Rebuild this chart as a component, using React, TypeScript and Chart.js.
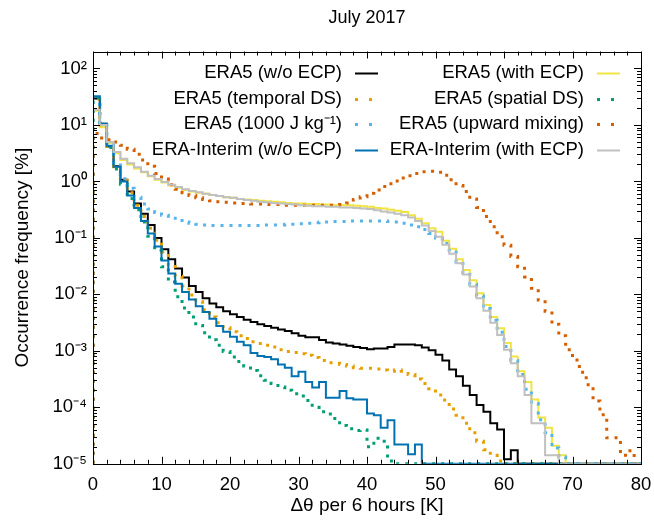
import React, { useEffect, useRef } from 'react';
import { Chart, registerables } from 'chart.js';

Chart.register(...registerables);

// ---------------- text ----------------
const TITLE = 'July 2017';
const X_TITLE = 'Δθ per 6 hours [K]';
const Y_TITLE = 'Occurrence frequency [%]';

// ---------------- axes ----------------
const X_MIN = 0;
const X_MAX = 80;
const X_MAJOR_TICKS = [0, 10, 20, 30, 40, 50, 60, 70, 80];
const X_MINOR_STEP = 2;
const Y_MIN = 1e-5;
const Y_MAX = 200;
const Y_TICK_EXPONENTS = [-5, -4, -3, -2, -1, 0, 1, 2];

// 1 K bins, first bin starts at 0 K
const BIN_START = 0;
const BIN_WIDTH = 1;

// ---------------- series (occurrence frequency in %, one value per 1 K bin; 0 = empty bin) ----------------
const ERA5_WO_ECP = [
  29.5, 10.5, 4.17, 1.86, 1.07, 0.661, 0.407, 0.269, 0.170, 0.100,
  0.0631, 0.0417, 0.0288, 0.0200, 0.0141, 0.0110, 8.51e-3, 6.92e-3, 5.89e-3, 5.01e-3,
  4.47e-3, 3.98e-3, 3.55e-3, 3.24e-3, 2.95e-3, 2.75e-3, 2.57e-3, 2.40e-3, 2.24e-3, 2.04e-3,
  1.86e-3, 1.74e-3, 1.74e-3, 1.55e-3, 1.41e-3, 1.35e-3, 1.29e-3, 1.23e-3, 1.17e-3, 1.12e-3,
  1.07e-3, 1.10e-3, 1.10e-3, 1.17e-3, 1.29e-3, 1.30e-3, 1.30e-3, 1.26e-3, 1.15e-3, 1.02e-3,
  8.51e-4, 6.76e-4, 4.68e-4, 3.55e-4, 2.40e-4, 1.66e-4, 1.10e-4, 8.32e-5, 5.25e-5, 4.07e-5,
  1.20e-5, 1.74e-5, 0, 0, 0, 0, 0, 0, 0, 0,
  0, 0, 0, 0, 0, 0, 0, 0, 0, 0,
];

const ERA5_WITH_ECP = [
  17.8, 9.12, 4.79, 3.16, 2.40, 2.00, 1.70, 1.45, 1.23, 1.07,
  0.955, 0.851, 0.776, 0.708, 0.661, 0.631, 0.603, 0.575, 0.550, 0.525,
  0.513, 0.490, 0.479, 0.468, 0.457, 0.447, 0.437, 0.427, 0.417, 0.407,
  0.407, 0.398, 0.398, 0.389, 0.389, 0.380, 0.380, 0.380, 0.372, 0.363,
  0.355, 0.339, 0.331, 0.316, 0.302, 0.288, 0.251, 0.219, 0.182, 0.148,
  0.129, 0.0891, 0.0646, 0.0417, 0.0269, 0.0178, 0.0105, 6.46e-3, 3.98e-3, 2.51e-3,
  1.38e-3, 7.94e-4, 4.37e-4, 2.82e-4, 1.38e-4, 6.61e-5, 4.37e-5, 2.09e-5, 1.41e-5, 0,
  0, 0, 0, 0, 0, 0, 0, 0, 0, 0,
];

const ERA5_TEMPORAL_DS = [
  28.2, 10.0, 4.17, 1.82, 1.05, 0.631, 0.380, 0.240, 0.148, 0.0912,
  0.0562, 0.0331, 0.0209, 0.0141, 9.77e-3, 7.41e-3, 5.37e-3, 3.98e-3, 3.16e-3, 2.57e-3,
  2.19e-3, 1.86e-3, 1.66e-3, 1.45e-3, 1.35e-3, 1.26e-3, 1.17e-3, 1.05e-3, 9.77e-4, 9.33e-4,
  8.91e-4, 8.32e-4, 7.59e-4, 6.76e-4, 6.17e-4, 6.03e-4, 5.75e-4, 5.37e-4, 5.01e-4, 4.90e-4,
  4.90e-4, 4.79e-4, 4.57e-4, 4.37e-4, 4.57e-4, 4.37e-4, 3.80e-4, 3.16e-4, 2.63e-4, 2.14e-4,
  1.66e-4, 1.35e-4, 9.33e-5, 7.24e-5, 5.25e-5, 3.55e-5, 2.51e-5, 1.78e-5, 1.41e-5, 1.12e-5,
  0, 0, 0, 0, 0, 0, 0, 0, 0, 0,
  0, 0, 0, 0, 0, 0, 0, 0, 0, 0,
];

const ERA5_SPATIAL_DS = [
  30.2, 10.0, 3.98, 1.66, 0.891, 0.501, 0.316, 0.191, 0.107, 0.0603,
  0.0309, 0.0166, 9.12e-3, 5.75e-3, 3.98e-3, 2.82e-3, 2.09e-3, 1.58e-3, 1.26e-3, 9.77e-4,
  7.76e-4, 6.46e-4, 5.37e-4, 4.47e-4, 3.63e-4, 3.02e-4, 2.63e-4, 2.29e-4, 2.00e-4, 1.74e-4,
  1.58e-4, 1.32e-4, 1.00e-4, 8.32e-5, 7.59e-5, 6.31e-5, 4.79e-5, 4.17e-5, 3.89e-5, 3.98e-5,
  2.00e-5, 2.82e-5, 2.51e-5, 1.12e-5, 0, 0, 0, 0, 0, 0,
  0, 0, 0, 0, 0, 0, 0, 0, 0, 0,
  0, 0, 0, 0, 0, 0, 0, 0, 0, 0,
  0, 0, 0, 0, 0, 0, 0, 0, 0, 0,
];

const ERA5_1000J = [
  25.1, 10.0, 4.47, 2.14, 1.12, 0.759, 0.525, 0.398, 0.324, 0.282,
  0.251, 0.224, 0.204, 0.191, 0.182, 0.174, 0.170, 0.166, 0.166, 0.166,
  0.166, 0.166, 0.166, 0.166, 0.166, 0.170, 0.170, 0.170, 0.174, 0.174,
  0.178, 0.182, 0.186, 0.191, 0.191, 0.195, 0.195, 0.200, 0.200, 0.200,
  0.200, 0.200, 0.200, 0.195, 0.191, 0.182, 0.170, 0.158, 0.141, 0.120,
  0.100, 0.0794, 0.0562, 0.0380, 0.0240, 0.0151, 9.33e-3, 5.62e-3, 3.47e-3, 2.14e-3,
  1.20e-3, 6.76e-4, 3.80e-4, 2.09e-4, 1.17e-4, 6.03e-5, 3.55e-5, 1.91e-5, 1.32e-5, 0,
  0, 0, 0, 0, 0, 0, 0, 0, 0, 0,
];

const ERA5_UPWARD_MIXING = [
  7.08, 5.89, 5.50, 5.01, 4.37, 3.72, 3.02, 2.40, 1.86, 1.38,
  1.10, 0.871, 0.724, 0.631, 0.562, 0.513, 0.479, 0.457, 0.437, 0.427,
  0.417, 0.407, 0.407, 0.398, 0.398, 0.389, 0.389, 0.389, 0.380, 0.380,
  0.380, 0.380, 0.380, 0.380, 0.380, 0.380, 0.389, 0.417, 0.479, 0.537,
  0.617, 0.708, 0.813, 0.912, 1.02, 1.15, 1.26, 1.38, 1.48, 1.51,
  1.45, 1.29, 1.07, 0.851, 0.661, 0.490, 0.347, 0.240, 0.158, 0.105,
  0.0741, 0.0468, 0.0309, 0.0204, 0.0129, 7.94e-3, 5.01e-3, 2.95e-3, 1.86e-3, 1.05e-3,
  6.92e-4, 4.17e-4, 2.51e-4, 1.29e-4, 7.41e-5, 2.88e-5, 2.88e-5, 1.41e-5, 1.70e-5, 0,
];

const ERAI_WO_ECP = [
  32.4, 10.5, 4.27, 1.82, 1.00, 0.562, 0.339, 0.200, 0.120, 0.0708,
  0.0398, 0.0234, 0.0155, 0.0110, 8.13e-3, 6.17e-3, 4.90e-3, 3.72e-3, 2.75e-3, 2.19e-3,
  1.78e-3, 1.45e-3, 1.26e-3, 9.12e-4, 8.13e-4, 7.76e-4, 7.08e-4, 5.75e-4, 5.01e-4, 3.55e-4,
  4.27e-4, 2.82e-4, 2.24e-4, 2.82e-4, 1.48e-4, 1.48e-4, 1.95e-4, 1.45e-4, 1.38e-4, 1.38e-4,
  7.76e-5, 7.24e-5, 4.37e-5, 5.89e-5, 2.19e-5, 2.19e-5, 1.48e-5, 2.19e-5, 0, 0,
  0, 0, 0, 0, 0, 0, 0, 0, 0, 0,
  0, 0, 0, 0, 0, 0, 0, 0, 0, 0,
  0, 0, 0, 0, 0, 0, 0, 0, 0, 0,
];

const ERAI_WITH_ECP = [
  18.6, 10.0, 5.01, 3.31, 2.51, 2.09, 1.78, 1.48, 1.26, 1.10,
  0.977, 0.871, 0.794, 0.724, 0.676, 0.646, 0.603, 0.575, 0.550, 0.525,
  0.513, 0.490, 0.468, 0.457, 0.437, 0.427, 0.417, 0.407, 0.398, 0.389,
  0.380, 0.372, 0.363, 0.363, 0.355, 0.355, 0.347, 0.347, 0.339, 0.331,
  0.324, 0.309, 0.295, 0.282, 0.269, 0.251, 0.229, 0.200, 0.166, 0.132,
  0.105, 0.0759, 0.0525, 0.0355, 0.0224, 0.0138, 8.51e-3, 5.13e-3, 3.16e-3, 1.91e-3,
  1.05e-3, 6.03e-4, 3.55e-4, 1.66e-4, 5.25e-5, 5.25e-5, 1.41e-5, 1.41e-5, 0, 0,
  0, 0, 0, 0, 0, 0, 0, 0, 0, 0,
];

const SERIES_LABELS = [
  'ERA5 (w/o ECP)',
  'ERA5 (with ECP)',
  'ERA5 (temporal DS)',
  'ERA5 (spatial DS)',
  'ERA5 (1000 J kg⁻¹)',
  'ERA5 (upward mixing)',
  'ERA-Interim (w/o ECP)',
  'ERA-Interim (with ECP)',
];
const SERIES_VALUES = [
  ERA5_WO_ECP, ERA5_WITH_ECP, ERA5_TEMPORAL_DS, ERA5_SPATIAL_DS,
  ERA5_1000J, ERA5_UPWARD_MIXING, ERAI_WO_ECP, ERAI_WITH_ECP,
];

// ---------------- styles ----------------
const SERIES_COLORS = ['#000000', '#f0e442', '#e69f00', '#009e73', '#56b4e9', '#d55e00', '#0072b2', '#c0c0c0'];
const SERIES_DOTTED = [false, false, true, true, true, true, false, false];
const FONT_FAMILY = '"Liberation Sans", Arial, Helvetica, sans-serif';
const DOT_DASH = [3, 6];
const LEGEND_DOT_DASH = [3, 11];

const SUP: Record<string, string> = {
  '-': '⁻', '0': '⁰', '1': '¹', '2': '²', '3': '³', '4': '⁴', '5': '⁵', '6': '⁶', '7': '⁷', '8': '⁸', '9': '⁹',
};
const sup = (n: number) => String(n).split('').map((c) => SUP[c]).join('');

// histogram steps: value of bin i holds from its left edge to its right edge; empty bins sit on the axis floor
function toSteps(values: number[]) {
  const floor = (v: number) => (v > 0 ? v : Y_MIN);
  const pts: { x: number; y: number }[] = [{ x: BIN_START, y: Y_MIN }];
  values.forEach((v, i) => pts.push({ x: BIN_START + i * BIN_WIDTH, y: floor(v) }));
  pts.push({ x: BIN_START + values.length * BIN_WIDTH, y: floor(values[values.length - 1]) });
  return pts;
}

const gnuplotFrame = {
  id: 'gnuplotFrame',
  afterDatasetsDraw(chart: any) {
    const { ctx, chartArea: a, scales } = chart;
    const xs = scales.x;
    const ys = scales.y;
    ctx.save();
    ctx.strokeStyle = '#000';
    ctx.lineWidth = 1;
    ctx.setLineDash([]);
    ctx.beginPath();
    // x ticks (bottom & top, inward)
    for (let v = X_MIN; v <= X_MAX; v += X_MINOR_STEP) {
      const px = Math.round(xs.getPixelForValue(v)) + 0.5;
      const len = X_MAJOR_TICKS.includes(v) ? 7 : 4;
      ctx.moveTo(px, a.bottom);
      ctx.lineTo(px, a.bottom - len);
      ctx.moveTo(px, a.top);
      ctx.lineTo(px, a.top + len);
    }
    // y ticks (left & right, inward)
    for (const e of Y_TICK_EXPONENTS) {
      for (let m = 1; m <= 9; m++) {
        const v = m * Math.pow(10, e);
        if (v < Y_MIN || v >= Y_MAX) continue;
        const py = Math.round(ys.getPixelForValue(v)) + 0.5;
        const len = m === 1 ? 7 : 4;
        ctx.moveTo(a.left, py);
        ctx.lineTo(a.left + len, py);
        ctx.moveTo(a.right, py);
        ctx.lineTo(a.right - len, py);
      }
    }
    ctx.stroke();
    ctx.strokeRect(Math.round(a.left) + 0.5, Math.round(a.top) + 0.5, Math.round(a.right - a.left), Math.round(a.bottom - a.top));

    // title, centred over the plot area
    ctx.fillStyle = '#000';
    ctx.font = `18px ${FONT_FAMILY}`;
    ctx.textAlign = 'center';
    ctx.textBaseline = 'middle';
    ctx.fillText(TITLE, (a.left + a.right) / 2, a.top - 33.5);

    // key (gnuplot style: right-justified text, sample to the right, 2 columns filled row-wise)
    const sampleLen = 23;
    const textGap = 13;
    const colRight = [a.right - 21 - 242, a.right - 21];
    const rowY0 = a.top + 21.8;
    const rowStep = 25.5;
    ctx.font = `18.5px ${FONT_FAMILY}`;
    ctx.textAlign = 'right';
    ctx.textBaseline = 'middle';
    chart.data.datasets.forEach((ds: any, i: number) => {
      const col = i % 2;
      const row = Math.floor(i / 2);
      const y = rowY0 + row * rowStep;
      const x1 = colRight[col];
      const x0 = x1 - sampleLen;
      ctx.fillStyle = '#000';
      ctx.fillText(ds.label, x0 - textGap, y);
      ctx.strokeStyle = ds.borderColor;
      ctx.lineWidth = ds.borderWidth;
      ctx.setLineDash(SERIES_DOTTED[i] ? LEGEND_DOT_DASH : []);
      ctx.beginPath();
      ctx.moveTo(x0, Math.round(y) + 0.5);
      ctx.lineTo(x1, Math.round(y) + 0.5);
      ctx.stroke();
    });
    ctx.restore();
  },
};

export default function App() {
  const canvasRef = useRef<HTMLCanvasElement | null>(null);

  useEffect(() => {
    if (!canvasRef.current) return;
    Chart.defaults.font.family = FONT_FAMILY;
    Chart.defaults.color = '#000';

    const datasets = SERIES_VALUES.map((values, i) => ({
      label: SERIES_LABELS[i],
      data: toSteps(values),
      borderColor: SERIES_COLORS[i],
      backgroundColor: SERIES_COLORS[i],
      borderWidth: SERIES_DOTTED[i] ? 3 : 2,
      borderDash: SERIES_DOTTED[i] ? DOT_DASH : [],
      borderCapStyle: 'butt',
      borderJoinStyle: 'miter',
      stepped: 'before',
      tension: 0,
      fill: false,
      pointRadius: 0,
      pointHoverRadius: 0,
      order: SERIES_VALUES.length - i,
    }));

    const chart = new Chart(canvasRef.current, {
      type: 'line',
      data: { datasets } as any,
      options: {
        animation: false,
        responsive: false,
        maintainAspectRatio: false,
        devicePixelRatio: 1,
        events: [],
        layout: { padding: { left: 0, right: 13, top: 51.5, bottom: 0 } },
        plugins: {
          legend: { display: false },
          tooltip: { enabled: false },
          title: { display: false },
        },
        scales: {
          x: {
            type: 'linear',
            min: X_MIN,
            max: X_MAX,
            afterBuildTicks: (scale: any) => {
              scale.ticks = X_MAJOR_TICKS.map((v) => ({ value: v }));
            },
            afterFit: (scale: any) => {
              scale.height = 57.2;
              scale.paddingLeft = 0;
              scale.paddingRight = 0;
            },
            grid: { display: false, drawTicks: false },
            border: { display: false },
            ticks: {
              color: '#000',
              font: { family: FONT_FAMILY, size: 18.5 },
              padding: 10,
              maxRotation: 0,
              autoSkip: false,
            },
            title: {
              display: true,
              text: X_TITLE,
              color: '#000',
              font: { family: FONT_FAMILY, size: 19 },
              padding: { top: 0, bottom: 3.6 },
            },
          },
          y: {
            type: 'logarithmic',
            min: Y_MIN,
            max: Y_MAX,
            afterBuildTicks: (scale: any) => {
              scale.ticks = Y_TICK_EXPONENTS.map((e) => ({ value: Math.pow(10, e) }));
            },
            afterFit: (scale: any) => {
              scale.width = 93;
              scale.paddingTop = 0;
              scale.paddingBottom = 0;
            },
            grid: { display: false, drawTicks: false },
            border: { display: false },
            ticks: {
              color: '#000',
              font: { family: FONT_FAMILY, size: 18.5 },
              padding: 6,
              autoSkip: false,
              callback: (v: any) => '10' + sup(Math.round(Math.log10(Number(v)))),
            },
            title: {
              display: true,
              text: Y_TITLE,
              color: '#000',
              font: { family: FONT_FAMILY, size: 19 },
              padding: { top: 11.6, bottom: 0 },
            },
          },
        },
      } as any,
      plugins: [gnuplotFrame],
    });

    return () => chart.destroy();
  }, []);

  return (
    <div style={{ position: 'fixed', left: 0, top: 0, width: 654, height: 521, background: '#fff' }}>
      <canvas ref={canvasRef} width={654} height={521} style={{ display: 'block', width: 654, height: 521 }} />
    </div>
  );
}
